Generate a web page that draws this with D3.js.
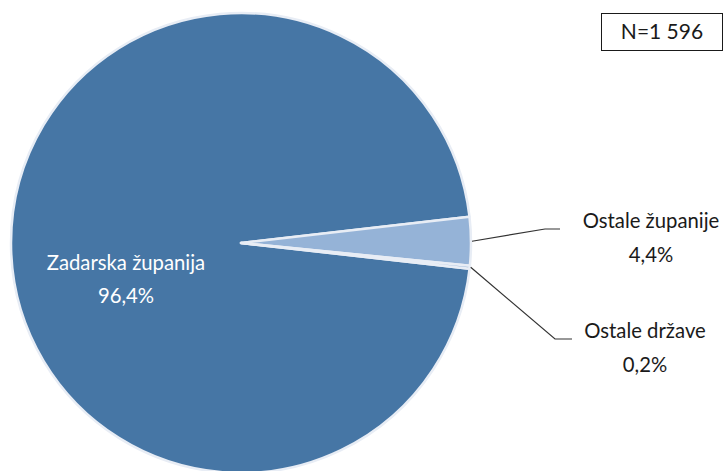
<!DOCTYPE html>
<html><head><meta charset="utf-8">
<script src="https://cdn.jsdelivr.net/npm/d3@7"></script>
<style>body{margin:0;background:#fff}svg{display:block}</style>
</head><body>
<script>
const categories = ["Zadarska županija", "Ostale županije", "Ostale države"];
const values = [96.4, 3.4, 0.2];
const valueLabels = ["96,4%", "4,4%", "0,2%"];
const colors = ["#4676a5", "#95b3d7", "#95b3d7"];
const totalLabel = "N=1 596";

const W = 724, H = 471;
const svg = d3.select("body").append("svg").attr("width", W).attr("height", H);
const font = "Lato, 'Open Sans', sans-serif";
const fs = 20.3;
const cx = 241, cy = 243, R = 230;
const start = 96.4 * Math.PI / 180;

const pie = d3.pie().sort(null).value(d => d)
  .startAngle(start).endAngle(start + 2 * Math.PI);
const arcs = pie(values);
const arc = d3.arc().innerRadius(0).outerRadius(R);

const g = svg.append("g").attr("transform", `translate(${cx},${cy})`);
g.selectAll("path").data(arcs).join("path")
  .attr("d", arc)
  .attr("fill", (d, i) => colors[i])
  .attr("stroke", "#e8edf5")
  .attr("stroke-width", 2.5)
  .attr("stroke-linejoin", "round");

// inside label
const t0 = svg.append("text").attr("font-family", font).attr("font-size", fs)
  .attr("fill", "#fff").attr("text-anchor", "middle");
t0.append("tspan").attr("x", 126).attr("y", 270).text(categories[0]);
t0.append("tspan").attr("x", 126).attr("y", 303).text(valueLabels[0]);

// outside labels with leaders
const outside = [
  {i: 1, elbow: [545, 229], end: 560, tx: 651, ty: 228},
  {i: 2, elbow: [555, 339], end: 572, tx: 645, ty: 338}
];
outside.forEach(o => {
  const a = arcs[o.i];
  const mid = (a.startAngle + a.endAngle) / 2;
  const p = [cx + (R + 1) * Math.sin(mid), cy - (R + 1) * Math.cos(mid)];
  svg.append("path")
    .attr("d", d3.line()([p, o.elbow, [o.end, o.elbow[1]]]))
    .attr("fill", "none").attr("stroke", "#333").attr("stroke-width", 1.2);
  const t = svg.append("text").attr("font-family", font).attr("font-size", fs)
    .attr("fill", "#1a1a1a").attr("text-anchor", "middle");
  t.append("tspan").attr("x", o.tx).attr("y", o.ty).text(categories[o.i]);
  t.append("tspan").attr("x", o.tx).attr("y", o.ty + 34).text(valueLabels[o.i]);
});

// N box
svg.append("rect").attr("x", 601.5).attr("y", 13.5).attr("width", 121).attr("height", 37)
  .attr("fill", "#fff").attr("stroke", "#1a1a1a").attr("stroke-width", 1);
svg.append("text").attr("x", 662).attr("y", 39).attr("text-anchor", "middle")
  .attr("font-family", font).attr("font-size", 21).attr("fill", "#1a1a1a").text(totalLabel);
</script>
</body></html>
